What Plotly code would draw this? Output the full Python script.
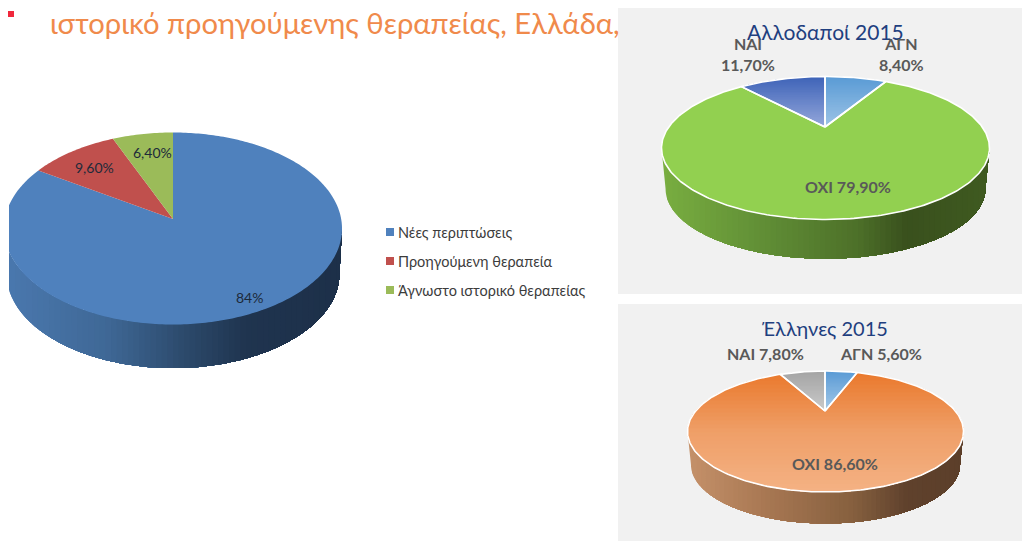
import numpy as np
import plotly.graph_objects as go

# ---------- data ----------
title_text = "ιστορικό προηγούμενης θεραπείας, Ελλάδα,"
total_names = ["Νέες περιπτώσεις", "Προηγούμενη θεραπεία", "Άγνωστο ιστορικό θεραπείας"]
total_values = [84.0, 9.6, 6.4]
total_labels = ["84%", "9,60%", "6,40%"]

foreign_title = "Αλλοδαποί 2015"
foreign_names = ["ΑΓΝ", "ΌΧΙ", "ΝΑΙ"]
foreign_values = [8.4, 79.9, 11.7]
foreign_labels = ["ΑΓΝ<br>8,40%", "ΌΧΙ 79,90%", "ΝΑΙ<br>11,70%"]

greek_title = "Έλληνες 2015"
greek_names = ["ΑΓΝ", "ΌΧΙ", "ΝΑΙ"]
greek_values = [5.6, 86.6, 7.8]
greek_labels = ["ΑΓΝ 5,60%", "ΌΧΙ 86,60%", "ΝΑΙ 7,80%"]

FONT = "Lato, 'Open Sans', sans-serif"
fig = go.Figure()


def hex2rgb(h):
    return np.array([int(h[i:i + 2], 16) for i in (1, 3, 5)], float)


def ramp(stops, p):
    pos = [s[0] for s in stops]
    cols = np.array([hex2rgb(s[1]) for s in stops])
    c = [np.interp(p, pos, cols[:, i]) for i in range(3)]
    return "rgb(%d,%d,%d)" % tuple(round(v) for v in c)


def clip(poly, axis, limit):
    """Keep the part of a polygon with coordinate >= limit."""
    out = []
    n = len(poly)
    for i in range(n):
        a, b = poly[i], poly[(i + 1) % n]
        ina, inb = a[axis] >= limit, b[axis] >= limit
        if ina:
            out.append(a)
        if ina != inb:
            u = (limit - a[axis]) / (b[axis] - a[axis])
            out.append((a[0] + u * (b[0] - a[0]), a[1] + u * (b[1] - a[1])))
    return out


def fill(poly, color):
    if len(poly) < 3:
        return
    xs = [p[0] for p in poly] + [poly[0][0]]
    ys = [p[1] for p in poly] + [poly[0][1]]
    fig.add_trace(go.Scatter(x=xs, y=ys, mode="none", fill="toself", fillcolor=color,
                             hoverinfo="skip", showlegend=False))


def gradient(poly, axis, stops, steps):
    lo = min(p[axis] for p in poly)
    hi = max(p[axis] for p in poly)
    for i in range(steps):
        p = i / (steps - 1)
        fill(clip(poly, axis, lo + (hi - lo) * i / steps), ramp(stops, p))


def pie(values, cx, cy, rx, ry, ax, ay, depth, wall, tops, rim=None, narrow=0.975):
    # side wall
    ang = np.radians(np.linspace(90, 270, 181))
    upper = [(cx + rx * np.sin(a), cy - ry * np.cos(a)) for a in ang]
    lower = [(cx + rx * narrow * np.sin(a), cy + depth - ry * narrow * np.cos(a)) for a in ang[::-1]]
    gradient(upper + lower, 0, wall, 60)

    # top surface: rays leave the apex, so slices follow the chart's perspective
    k = ry / rx
    edges = np.cumsum([0] + list(values)) / sum(values) * 2 * np.pi
    outlines = []
    for v0, v1, top in zip(edges[:-1], edges[1:], tops):
        poly = [(ax, ay)]
        for t in np.linspace(v0, v1, max(int((v1 - v0) * 60), 8)):
            dx, dy = np.sin(t), -k * np.cos(t)
            A = (dx / rx) ** 2 + (dy / ry) ** 2
            B = 2 * ((ax - cx) * dx / rx ** 2 + (ay - cy) * dy / ry ** 2)
            C = ((ax - cx) / rx) ** 2 + ((ay - cy) / ry) ** 2 - 1
            s = (-B + np.sqrt(B * B - 4 * A * C)) / (2 * A)
            poly.append((ax + s * dx, ay + s * dy))
        outlines.append(poly)
        if len(top) == 1:
            fill(poly, top[0][1])
        else:
            gradient(poly, 1, top, 30)
    if rim:
        for poly in outlines:
            fig.add_trace(go.Scatter(x=[p[0] for p in poly] + [poly[0][0]],
                                     y=[p[1] for p in poly] + [poly[0][1]],
                                     mode="lines", line=dict(color=rim, width=1.6),
                                     hoverinfo="skip", showlegend=False))


# ---------- pies ----------
pie(total_values, 173, 228.5, 169, 96, 173, 219, 45,
    [(0, "#4a78ae"), (0.3, "#3f6896"), (0.55, "#2b4869"), (0.72, "#1f344f"), (1, "#1d3049")],
    [[(0, "#4f81bd")], [(0, "#c0504d")], [(0, "#9bbb59")]], narrow=0.985)

pie(foreign_values, 825.5, 148, 164, 71.5, 825, 127, 41,
    [(0, "#78ad40"), (0.3, "#618f36"), (0.6, "#4d7029"), (0.75, "#39501d"), (1, "#3f5a20")],
    [[(0, "#5a9bd5"), (1, "#9cc3e6")], [(0, "#92d050")], [(0, "#3f64b8"), (1, "#93a6da")]],
    rim="#ffffff")

pie(greek_values, 825.5, 431.5, 138, 60.5, 825, 411, 33,
    [(0, "#c49069"), (0.3, "#a67651"), (0.6, "#86603f"), (0.8, "#5f412c"), (1, "#5c3f2a")],
    [[(0, "#5b9bd5"), (1, "#a3c8e8")], [(0, "#ea7a2e"), (0.5, "#ef9f68"), (1, "#f4b183")],
     [(0, "#a5a5a5"), (1, "#c9c9c9")]],
    rim="#ffffff")

# legend swatches of the left chart
legend_y = [232, 261, 290]
fig.add_trace(go.Scatter(x=[390] * 3, y=legend_y, mode="markers",
                         marker=dict(symbol="square", size=8, color=["#4f81bd", "#c0504d", "#9bbb59"]),
                         hoverinfo="skip", showlegend=False))
# red bullet in the heading
fig.add_trace(go.Scatter(x=[11], y=[14], mode="markers",
                         marker=dict(symbol="square", size=6, color="#f0283c"),
                         hoverinfo="skip", showlegend=False))


def note(x, y, text, size, color, anchor="center", weight="normal"):
    fig.add_annotation(x=x, y=y, text=text, showarrow=False, xanchor=anchor, yanchor="middle",
                       xshift=0, borderpad=0, borderwidth=0,
                       font=dict(family=FONT, size=size, color=color, weight=weight))


note(50, 22, title_text, 29.2, "#f08a4b", anchor="left")
note(825, 31, foreign_title, 21, "#1f3f7f")
note(825, 328, greek_title, 20, "#1f3f7f")

for y, t in zip(legend_y, total_names):
    note(398, y, t, 14.5, "#3c3c3c", anchor="left")
for (x, y), t in zip([(249, 297), (94, 167), (152, 152)], total_labels):
    note(x, y, t, 14, "#1d2a3a")
for (x, y), t in zip([(901, 54), (848, 186), (748, 54)], foreign_labels):
    note(x, y, t, 16, "#595959", weight="bold")
for (x, y), t in zip([(881, 353), (835, 463), (765, 353)], greek_labels):
    note(x, y, t, 16, "#595959", weight="bold")

shapes = [
    dict(type="rect", x0=618, x1=1022, y0=8, y1=294, fillcolor="#f1f1f1", line_width=0, layer="below"),
    dict(type="rect", x0=618, x1=1022, y0=304, y1=541, fillcolor="#f1f1f1", line_width=0, layer="below"),
    # the left chart is cut off by its frame
    dict(type="rect", x0=0, x1=9, y0=100, y1=400, fillcolor="#ffffff", line_width=0, layer="above"),
]

fig.update_layout(
    width=1022, height=541, autosize=False,
    margin=dict(l=0, r=0, t=0, b=0),
    paper_bgcolor="#ffffff", plot_bgcolor="#ffffff",
    shapes=shapes, showlegend=False,
    xaxis=dict(range=[0, 1022], visible=False, fixedrange=True),
    yaxis=dict(range=[541, 0], visible=False, fixedrange=True),
)
fig.write_html("out.html", config={"displayModeBar": False},
               post_script="document.body.style.margin='0';document.body.style.overflow='hidden';")
